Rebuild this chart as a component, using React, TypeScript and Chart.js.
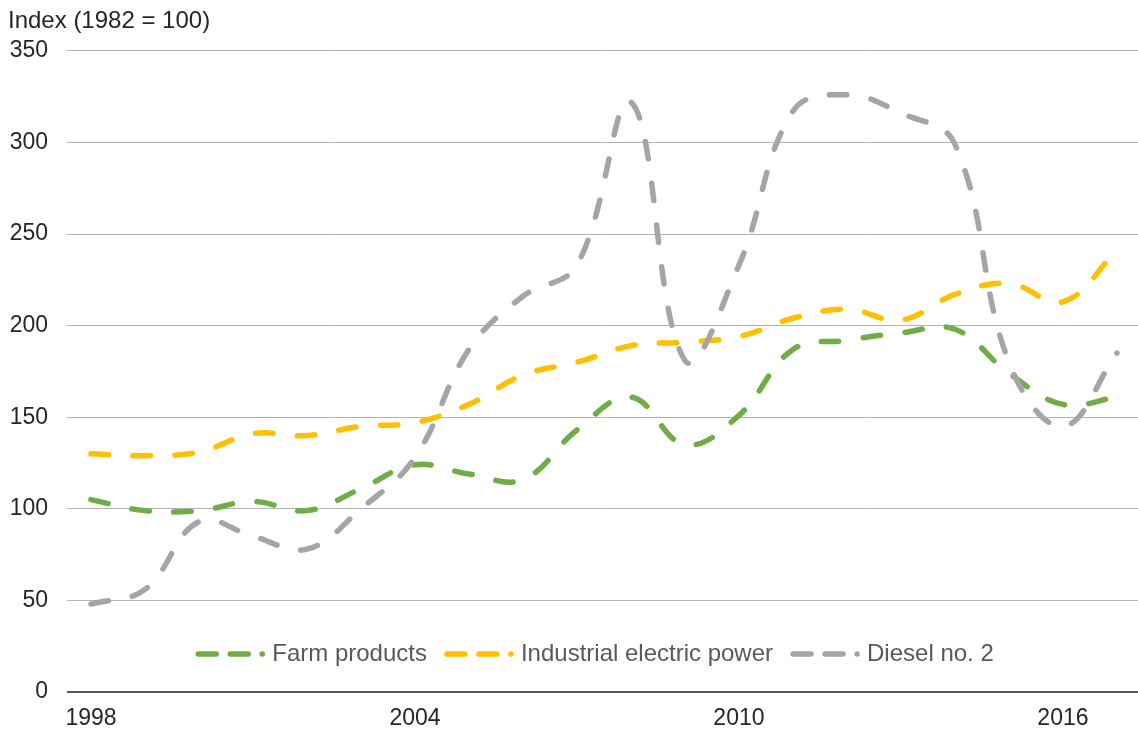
import { useEffect, useRef } from 'react';
import { Chart, registerables } from 'chart.js';

Chart.register(...registerables);

// Annual producer price indexes, 1998–2017
const years = [1998, 1999, 2000, 2001, 2002, 2003, 2004, 2005, 2006, 2007, 2008, 2009, 2010, 2011, 2012, 2013, 2014, 2015, 2016, 2017];
const farmProducts = [105, 99, 99, 104, 99, 111, 124, 119, 116, 143, 161, 135, 151, 187, 192, 196, 198, 174, 157, 161];
const industrialElectricPower = [130, 129, 131, 141, 140, 145, 147, 157, 173, 180, 189, 191, 194, 204, 209, 203, 217, 223, 213, 241];
const dieselNo2 = [48, 56, 93, 85, 78, 100, 128, 187, 216, 233, 322, 181, 233, 317, 326, 316, 299, 180, 145, 185];

const seriesNames = ['Farm products', 'Industrial electric power', 'Diesel no. 2'];
const seriesColors = ['#70AD47', '#FFC000', '#A5A5A5'];

const xTickYears = [1998, 2004, 2010, 2016];
const yTickValues = [0, 50, 100, 150, 200, 250, 300, 350];
const yAxisTitle = 'Index (1982 = 100)';

const FONT_FAMILY = '"Liberation Sans", Arial, Helvetica, sans-serif';
const TICK_SIZE = 23;
const TEXT_SIZE = 24;
const TEXT_DARK = '#262626';
const TEXT_LEGEND = '#595959';

// Legend drawn inside the plot, just above the zero line:
// each entry shows a "dash dash dot" sample followed by the series name.
const insideLegend = {
  id: 'insideLegend',
  afterDraw(chart: any) {
    const { ctx, chartArea } = chart;
    const sampleW = 72;
    const textGap = 5;
    const itemGap = 17;
    ctx.save();
    ctx.font = `${TEXT_SIZE}px ${FONT_FAMILY}`;
    const items = chart.data.datasets.map((ds: any) => ({
      label: ds.label as string,
      color: ds.borderColor as string,
      w: ctx.measureText(ds.label).width,
    }));
    const total =
      items.reduce((s: number, it: any) => s + sampleW + textGap + it.w, 0) + itemGap * (items.length - 1);
    let x = (chartArea.left + chartArea.right) / 2 - 8 - total / 2;
    const y = chartArea.bottom - 38;
    items.forEach((it: any) => {
      ctx.strokeStyle = it.color;
      ctx.fillStyle = it.color;
      ctx.lineWidth = 5.5;
      ctx.lineCap = 'round';
      ctx.beginPath();
      ctx.moveTo(x + 3, y);
      ctx.lineTo(x + 21, y);
      ctx.moveTo(x + 35, y);
      ctx.lineTo(x + 53, y);
      ctx.stroke();
      ctx.beginPath();
      ctx.arc(x + 67, y, 2.8, 0, Math.PI * 2);
      ctx.fill();
      ctx.fillStyle = TEXT_LEGEND;
      ctx.textAlign = 'left';
      ctx.textBaseline = 'middle';
      ctx.fillText(it.label, x + sampleW + textGap, y);
      x += sampleW + textGap + it.w + itemGap;
    });
    ctx.restore();
  },
};

export default function App() {
  const canvasRef = useRef<HTMLCanvasElement | null>(null);

  useEffect(() => {
    const canvas = canvasRef.current;
    if (!canvas) return;

    const seriesValues = [farmProducts, industrialElectricPower, dieselNo2];
    const datasets = seriesValues.map((values, i) => ({
      label: seriesNames[i],
      data: values,
      borderColor: seriesColors[i],
      backgroundColor: seriesColors[i],
      borderWidth: 5.5,
      borderDash: [17.5, 24.5],
      borderCapStyle: 'round' as const,
      pointRadius: 0,
      pointHoverRadius: 0,
      tension: 0.4,
      fill: false,
      order: seriesValues.length - i,
    }));

    const chart = new Chart(canvas, {
      type: 'line',
      data: { labels: years, datasets },
      plugins: [insideLegend],
      options: {
        responsive: false,
        animation: false,
        events: [],
        layout: { padding: { left: 8, right: 0, top: 0, bottom: 0 } },
        plugins: {
          legend: { display: false },
          tooltip: { enabled: false },
          title: {
            display: true,
            text: yAxisTitle,
            align: 'start',
            color: TEXT_DARK,
            font: { family: FONT_FAMILY, size: TEXT_SIZE, weight: 'normal', lineHeight: 1.2 },
            padding: { top: 7, bottom: 15 },
          },
        },
        scales: {
          x: {
            type: 'linear',
            min: 1997.556,
            max: 2017.39,
            afterBuildTicks: (scale: any) => {
              scale.ticks = xTickYears.map((v) => ({ value: v }));
            },
            afterFit: (scale: any) => {
              scale.height = 40;
            },
            grid: { display: false, drawTicks: false },
            border: { display: false },
            ticks: {
              padding: 13,
              color: TEXT_DARK,
              font: { family: FONT_FAMILY, size: TICK_SIZE },
              maxRotation: 0,
              autoSkip: false,
              callback: (v: any) => String(v),
            },
          },
          y: {
            min: 0,
            max: 350,
            afterBuildTicks: (scale: any) => {
              scale.ticks = yTickValues.map((v) => ({ value: v }));
            },
            afterFit: (scale: any) => {
              scale.width = 59;
            },
            grid: {
              drawTicks: false,
              color: (c: any) => (c.tick && c.tick.value === 0 ? '#595959' : '#b3b3b3'),
              lineWidth: (c: any) => (c.tick && c.tick.value === 0 ? 2 : 1),
            },
            border: { display: false },
            ticks: {
              padding: 19,
              color: TEXT_DARK,
              font: { family: FONT_FAMILY, size: TICK_SIZE },
              callback: (v: any) => String(v),
            },
          },
        },
      },
    } as any);

    return () => chart.destroy();
  }, []);

  return (
    <div style={{ position: 'fixed', left: 0, top: 0, width: 1138, height: 732, background: '#ffffff' }}>
      <canvas ref={canvasRef} width={1138} height={732} />
    </div>
  );
}
